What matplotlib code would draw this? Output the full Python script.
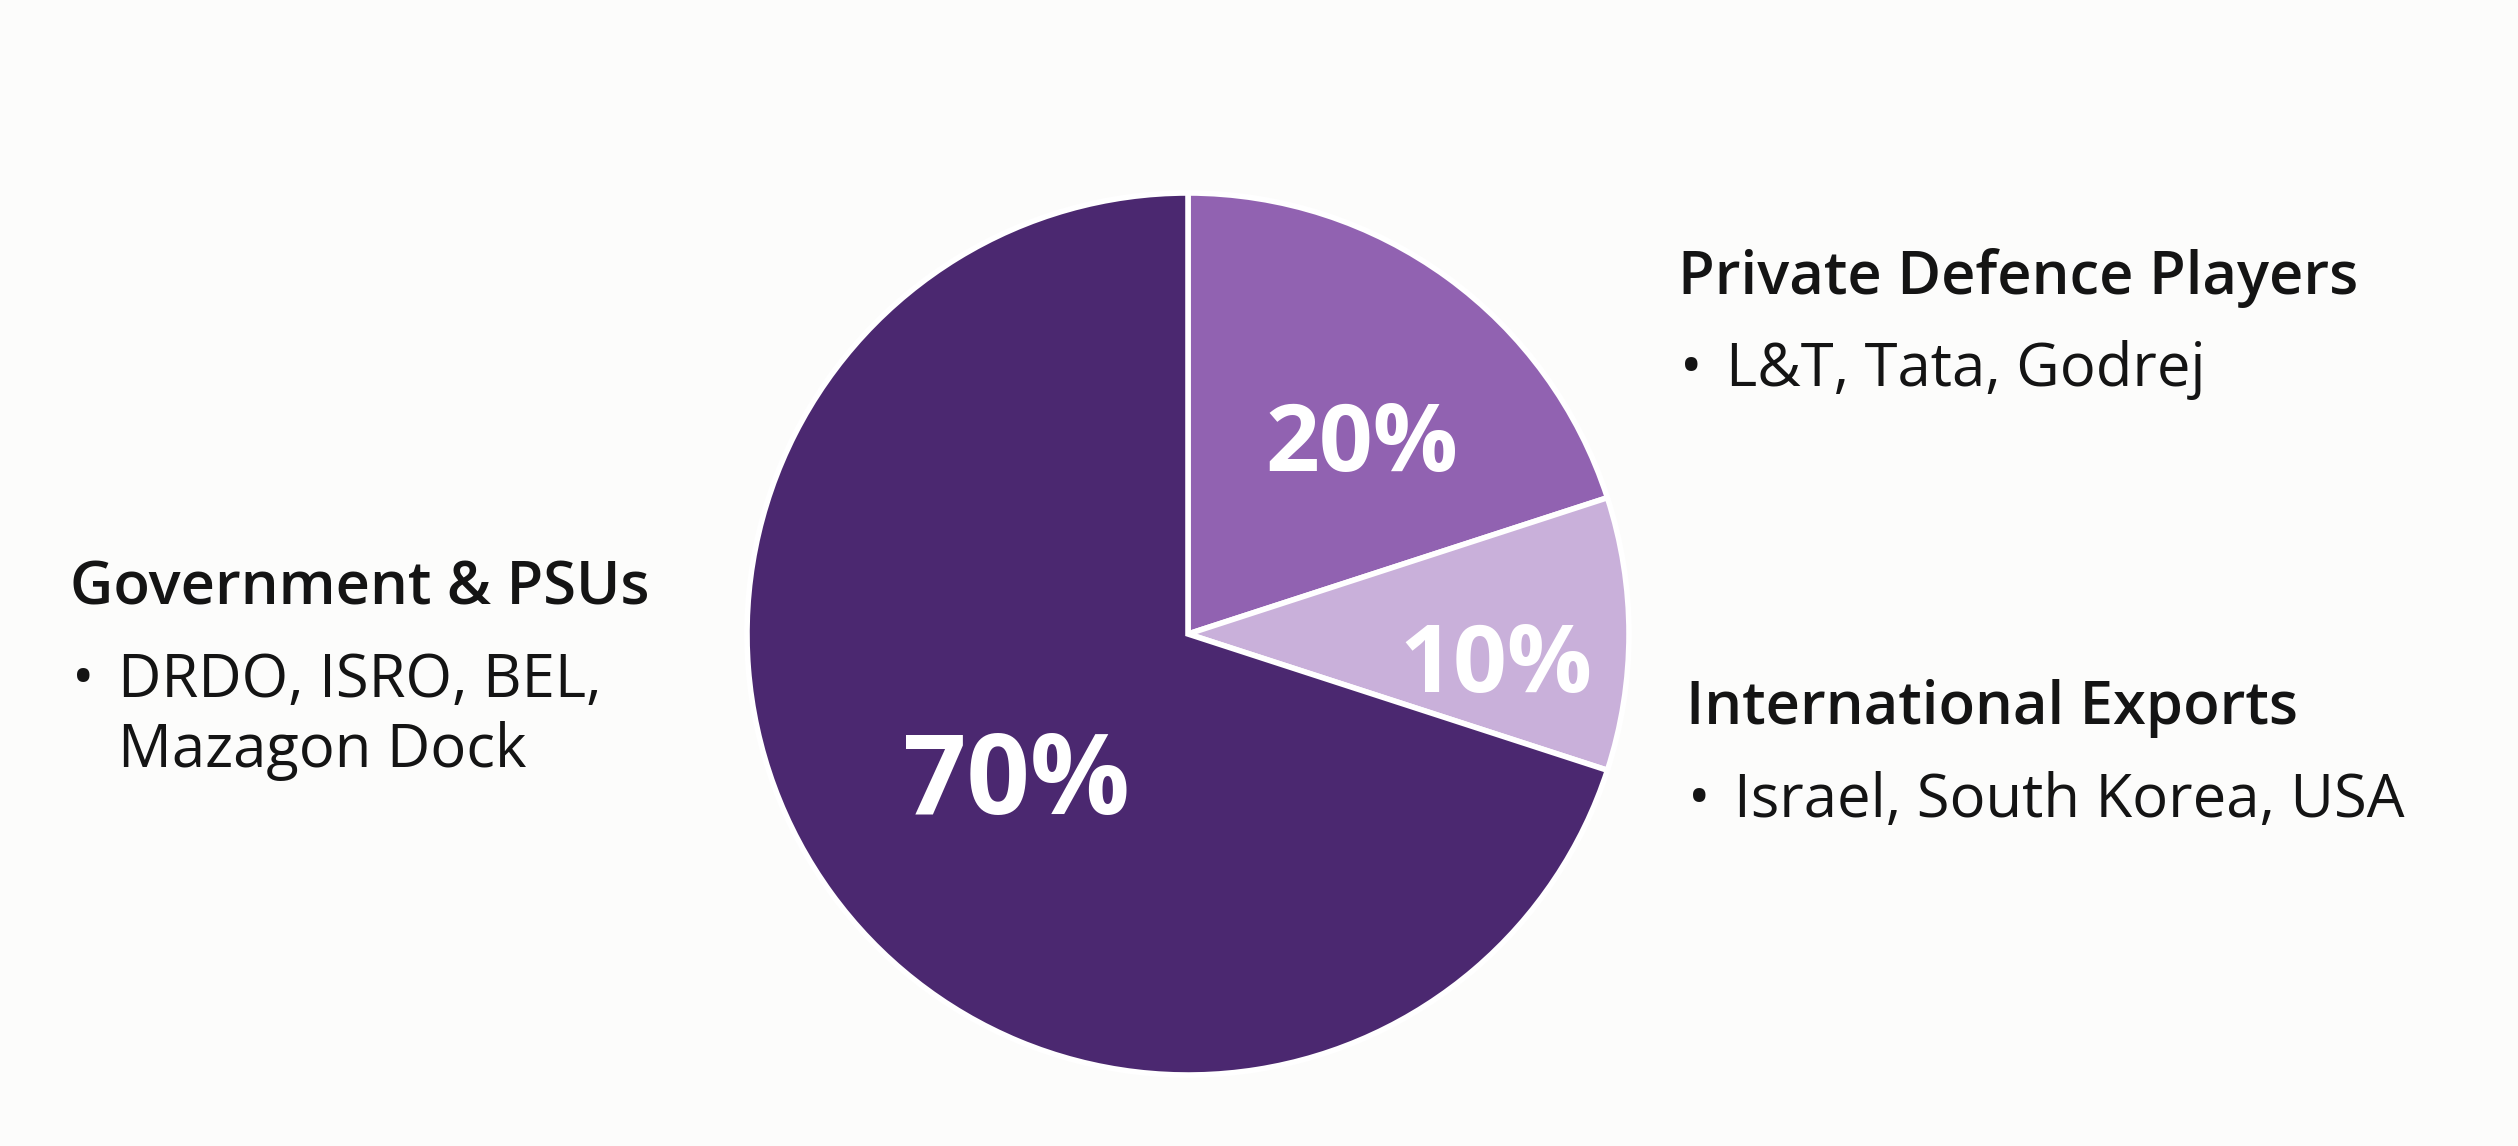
import matplotlib
matplotlib.use("Agg")
import matplotlib.pyplot as plt
import numpy as np

# data
segments = ["Private Defence Players", "International Exports", "Government & PSUs"]
shares = [20, 10, 70]
share_labels = ["20%", "10%", "70%"]
details = [["L&T, Tata, Godrej"], ["Israel, South Korea, USA"], ["DRDO, ISRO, BEL,", "Mazagon Dock"]]
colors = ["#9162b1", "#c9b0da", "#4b2870"]

W, H = 2518, 1146
plt.rcParams["font.family"] = ["Open Sans", "DejaVu Sans"]

fig = plt.figure(figsize=(W / 100, H / 100), dpi=100, facecolor="#fcfcfb")
ax = fig.add_axes([0, 0, 1, 1])
ax.set_facecolor("#fcfcfb")

cx, cy, r = 1188, H - 634, 441
wedges, _ = ax.pie(shares, colors=colors, startangle=90, counterclock=False,
                   center=(cx, cy), radius=r,
                   wedgeprops=dict(edgecolor="white", linewidth=4))
ax.set_xlim(0, W)
ax.set_ylim(0, H)
ax.set_aspect("equal")
ax.axis("off")

# percentage labels inside each wedge
fracs = [0.60, 0.70, 0.50]
shifts = [-5, -4, 3]
sizes = [68, 68, 80]
for w, lab, f, s, fs in zip(wedges, share_labels, fracs, shifts, sizes):
    mid = np.deg2rad((w.theta1 + w.theta2) / 2 + s)
    ax.text(cx + f * r * np.cos(mid), cy + f * r * np.sin(mid) - 12, lab,
            ha="center", va="center", color="white", fontsize=fs,
            fontweight="bold")

# side annotations
title_pos = [(1678, 278), (1686, 709), (70, 589)]
ink = "#141414"
for name, det, (x, y) in zip(segments, details, title_pos):
    ax.text(x, H - y, name, ha="left", va="center", fontsize=43,
            fontweight="semibold", color=ink)
    ax.text(x + 2, H - y - 92, "•", ha="left", va="center", fontsize=43, color=ink)
    for i, line in enumerate(det):
        ax.text(x + 48, H - y - 92 - i * 70, line, ha="left", va="center",
                fontsize=43, color=ink)

fig.savefig("out.png", dpi=100, facecolor=fig.get_facecolor())
